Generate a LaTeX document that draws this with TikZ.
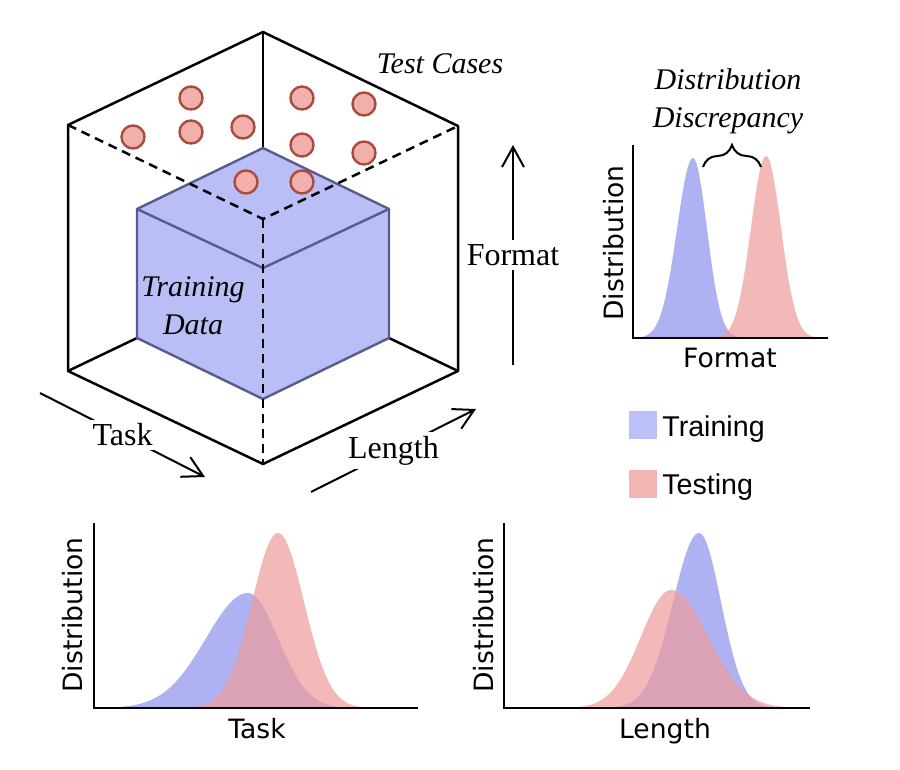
\documentclass[tikz,border=0pt]{standalone}
\usepackage{fontspec}
\setmainfont{Liberation Serif}
\newfontfamily\plotfont{DejaVu Sans}
\newfontfamily\legfont{Liberation Sans}
\usetikzlibrary{arrows.meta,decorations.pathreplacing}
\definecolor{cubefill}{HTML}{B9BEF7}
\definecolor{cubeedge}{HTML}{5B5A8C}
\definecolor{casefill}{HTML}{F1B0AB}
\definecolor{caseedge}{HTML}{A94B3D}
\definecolor{trainc}{RGB}{139,145,238}
\definecolor{testc}{RGB}{238,155,155}
\definecolor{legtrain}{HTML}{BBC0F7}
\definecolor{legtest}{HTML}{F2B5B3}
\tikzset{
  box/.style={draw=black, line width=1.25pt, line join=round},
  hid/.style={draw=black, line width=1.25pt, dash pattern=on 4.5pt off 3pt},
  inner/.style={draw=cubeedge, fill=cubefill, line width=1.2pt, line join=round},
  tcase/.style={circle, draw=caseedge, fill=casefill, line width=1.2pt, minimum size=11.5pt, inner sep=0pt},
  axarrow/.style={draw=black, line width=1pt, -{Straight Barb[length=10pt,width=11pt]}},
  lab/.style={font=\fontsize{16}{19}\selectfont},
  itlab/.style={font=\fontsize{15}{19}\selectfont\itshape, align=center},
  axis/.style={draw=black, line width=1.3pt},
  axlab/.style={font=\plotfont\fontsize{13.3}{16}\selectfont, inner sep=0pt},
  leg/.style={font=\legfont\fontsize{14.3}{17}\selectfont, inner sep=0pt},
  legbox/.style={minimum size=14pt, inner sep=0pt},
  trainkde/.style={fill=trainc, fill opacity=0.7},
  testkde/.style={fill=testc, fill opacity=0.7},
}

\begin{document}
\begin{tikzpicture}[x=0.5pt, y=-0.5pt,
  declare function={zz(\q,\m,\l,\r)=(\q-\m)/((\q<\m)?\l:\r);
    skg(\q,\m,\h,\l,\r)=\h*exp(-0.5*zz(\q,\m,\l,\r)*zz(\q,\m,\l,\r));}]
  \useasboundingbox (0,0) rectangle (900,770);

  % outer cube
  \coordinate (T) at (263,32);
  \coordinate (UL) at (68,125);
  \coordinate (UR) at (458,126);
  \coordinate (C) at (263,219);
  \coordinate (LL) at (68,371);
  \coordinate (LR) at (458,371);
  \coordinate (B) at (263,464);
  % training cube
  \coordinate (iT) at (263,148);
  \coordinate (iUL) at (137,209);
  \coordinate (iUR) at (389,209);
  \coordinate (iC) at (263,268);
  \coordinate (iLL) at (137,338);
  \coordinate (iLR) at (389,338);
  \coordinate (iB) at (263,399);

  \draw[box] (T) -- (UL) -- (LL) -- (B) -- (LR) -- (UR) -- cycle;
  \draw[box] (T) -- (iT);
  \draw[box] (LL) -- (iLL);
  \draw[box] (LR) -- (iLR);
  \draw[inner] (iT) -- (iUL) -- (iLL) -- (iB) -- (iLR) -- (iUR) -- cycle;
  \draw[inner] (iUL) -- (iC) -- (iUR);
  \draw[hid] (UL) -- (C) -- (UR);
  \draw[hid] (C) -- (B);

  \foreach \cx/\cy [count=\i] in {191/98,133/137,191/132,243/127,302/98,
      364/104,302/145,364/153,246/182,302/182}
    \node[tcase] (tc\i) at (\cx,\cy) {};

  \node[itlab, anchor=base] (tclab) at (440,74) {Test Cases};
  \node[itlab] (trlab) at (193,306) {Training\\Data};

  % axis arrows
  \coordinate (taskS) at (40,393);
  \coordinate (taskE) at (205,477);
  \coordinate (lenS) at (311,492);
  \coordinate (lenE) at (476,409);
  \coordinate (fmtS) at (513,365);
  \coordinate (fmtE) at (513,145);
  \draw[axarrow] (taskS) -- node[lab, fill=white, inner sep=2pt] (tasklab) {Task} (taskE);
  \draw[axarrow] (lenS) -- node[lab, fill=white, inner sep=2pt] (lenlab) {Length} (lenE);
  \draw[axarrow] (fmtS) -- node[lab, fill=white, inner sep=2pt] (fmtlab) {Format} (fmtE);

  % format plot
  \coordinate (fO) at (633,338);
  \coordinate (fY) at (633,145);
  \coordinate (fX) at (828,338);
  \fill[trainkde] plot[domain=636:760, samples=90] (\x,{338-skg(\x,693,180,16,14)}) -- cycle;
  \fill[testkde] plot[domain=700:828, samples=90] (\x,{338-skg(\x,766,182,15,15)}) -- cycle;
  \draw[axis] (fY) -- (fO) -- (fX);
  \node[axlab, rotate=90, anchor=base] (fdist) at (623,243) {Distribution};
  \node[axlab, anchor=base] (fxlab) at (730,368) {Format};
  \coordinate (brL) at (703,167);
  \coordinate (brR) at (761,167);
  \draw[line width=1pt, decorate, decoration={brace, amplitude=11pt}] (brL) -- (brR);
  \node[itlab] (disc) at (728,101) {Distribution\\Discrepancy};

  % legend
  \node[legbox, fill=legtrain] (legsq1) at (643,425) {};
  \node[legbox, fill=legtest] (legsq2) at (643,484) {};
  \node[leg, anchor=base west] (legtr) at (662,437) {Training};
  \node[leg, anchor=base west] (legte) at (662,494) {Testing};

  % task plot
  \coordinate (tO) at (94,708);
  \coordinate (tY) at (94,523);
  \coordinate (tX) at (418,708);
  \fill[trainkde] plot[domain=100:360, samples=100] (\x,{708-skg(\x,248,115,42,30)}) -- cycle;
  \fill[testkde] plot[domain=180:380, samples=100] (\x,{708-skg(\x,278,175,26,26)}) -- cycle;
  \draw[axis] (tY) -- (tO) -- (tX);
  \node[axlab, rotate=90, anchor=base] (tdist) at (83,615) {Distribution};
  \node[axlab, anchor=base] (txlab) at (257,738) {Task};

  % length plot
  \coordinate (lO) at (504,708);
  \coordinate (lY) at (504,523);
  \coordinate (lX) at (810,708);
  \fill[trainkde] plot[domain=600:790, samples=100] (\x,{708-skg(\x,699,175,26,22)}) -- cycle;
  \fill[testkde] plot[domain=540:800, samples=100] (\x,{708-skg(\x,671,118,30,37)}) -- cycle;
  \draw[axis] (lY) -- (lO) -- (lX);
  \node[axlab, rotate=90, anchor=base] (ldist) at (493,615) {Distribution};
  \node[axlab, anchor=base] (lxlab) at (665,738) {Length};
\end{tikzpicture}
\end{document}
